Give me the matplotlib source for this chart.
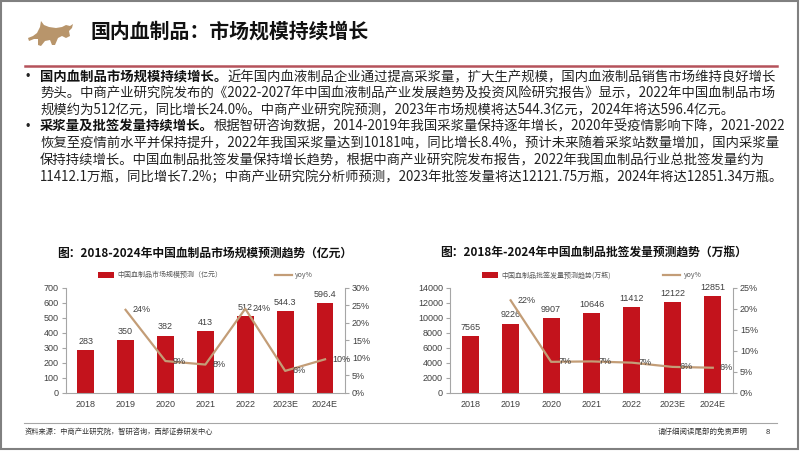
import matplotlib
matplotlib.use("Agg")
import matplotlib.pyplot as plt
from matplotlib.patches import Rectangle, Polygon, Patch
from matplotlib.lines import Line2D
from matplotlib.ticker import FuncFormatter, MultipleLocator

CJK = ['Noto Sans CJK SC', 'DejaVu Sans']
NUM = ['Liberation Sans', 'DejaVu Sans']

# ---- data ----
years = ["2018", "2019", "2020", "2021", "2022", "2023E", "2024E"]
market_size = [283, 350, 382, 413, 512, 544.3, 596.4]
market_labels = ["283", "350", "382", "413", "512", "544.3", "596.4"]
market_yoy = [23.7, 9.1, 8.1, 24.0, 6.3, 9.6]          # % , from 2019
market_yoy_labels = ["24%", "9%", "8%", "24%", "6%", "10%"]

lots = [7565, 9226, 9907, 10646, 11412, 12122, 12851]
lots_labels = ["7565", "9226", "9907", "10646", "11412", "12122", "12851"]
lots_yoy = [22.0, 7.4, 7.5, 7.2, 6.2, 6.0]
lots_yoy_labels = ["22%", "7%", "7%", "7%", "6%", "6%"]

BAR = '#C3131C'
LINE = '#C39D77'
GRAY_T = '#404040'

W, H = 802, 451
fig = plt.figure(figsize=(W / 100, H / 100), dpi=100)

def fx(px):
    return px / W

def fy(py):
    return 1 - py / H

# frame of the slide
fig.add_artist(Rectangle((fx(1), fy(449)), fx(797), 448 / H, transform=fig.transFigure,
                         fill=False, edgecolor='#808080', lw=1.5))

# logo (rough bull silhouette)
bull = [(28, 38), (33, 36), (37, 33), (40, 27), (41, 21), (44, 25), (49, 27), (56, 28),
        (62, 27), (66, 25), (70, 26), (73, 24), (72, 28), (69, 31), (70, 36), (66, 38),
        (62, 36), (58, 38), (55, 45), (52, 45), (50, 40), (45, 41), (41, 46), (38, 45),
        (38, 39), (34, 39), (29, 41)]
fig.add_artist(Polygon([(fx(a), fy(b)) for a, b in bull], closed=True,
                       transform=fig.transFigure, color='#B8956B', lw=0))

fig.text(fx(90), fy(31), "国内血制品：市场规模持续增长", family=CJK, fontsize=14.3,
         fontweight='bold', va='center', ha='left', color='#111111')
fig.add_artist(Line2D([fx(25), fx(777)], [fy(66), fy(66)], transform=fig.transFigure,
                      color='#B5525B', lw=1.8))

# ---- bullet text ----
body = [
    ("国内血制品市场规模持续增长。", "近年国内血液制品企业通过提高采浆量，扩大生产规模，国内血液制品销售市场维持良好增长"),
    ("", "势头。中商产业研究院发布的《2022-2027年中国血液制品产业发展趋势及投资风险研究报告》显示，2022年中国血制品市场"),
    ("", "规模约为512亿元，同比增长24.0%。中商产业研究院预测，2023年市场规模将达544.3亿元，2024年将达596.4亿元。"),
    ("采浆量及批签发量持续增长。", "根据智研咨询数据，2014-2019年我国采浆量保持逐年增长，2020年受疫情影响下降，2021-2022"),
    ("", "恢复至疫情前水平并保持提升，2022年我国采浆量达到10181吨，同比增长8.4%，预计未来随着采浆站数量增加，国内采浆量"),
    ("", "保持持续增长。中国血制品批签发量保持增长趋势，根据中商产业研究院发布报告，2022年我国血制品行业总批签发量约为"),
    ("", "11412.1万瓶，同比增长7.2%；中商产业研究院分析师预测，2023年批签发量将达12121.75万瓶，2024年将达12851.34万瓶。"),
]
line_y = [77, 93.6, 110.2, 126.8, 143.4, 160, 176.6]
renderer = fig.canvas.get_renderer()
for (bold, rest), y in zip(body, line_y):
    x = 40
    if bold:
        fig.text(fx(26), fy(y), "•", family=NUM, fontsize=9, va='center', ha='left', color='#222222')
        t = fig.text(fx(x), fy(y), bold, family=CJK, fontsize=9.6, fontweight='bold',
                     va='center', ha='left', color='#111111')
        x = t.get_window_extent(renderer=renderer).x1
    fig.text(fx(x), fy(y), rest, family=CJK, fontsize=9.6, va='center', ha='left', color='#222222')


def draw_chart(left_px, right_px, title, title_cx, vals, vlabels, yoy, ylabels,
               ymax, ystep, rmax, legend_name, colspace):
    ax = fig.add_axes([fx(left_px), fy(393), fx(right_px - left_px), (393 - 287.7) / H])
    x = list(range(len(years)))
    ax.bar(x, vals, width=0.42, color=BAR, zorder=2)
    for xi, v, lab in zip(x, vals, vlabels):
        ax.annotate(lab, (xi, v), xytext=(0, 3), textcoords='offset points',
                    ha='center', va='bottom', fontsize=6.5, family=NUM, color=GRAY_T)
    ax.set_xlim(-0.5, len(years) - 0.5)
    ax.set_ylim(0, ymax)
    ax.yaxis.set_major_locator(MultipleLocator(ystep))
    ax.set_xticks(x)
    ax.set_xticklabels(years)
    for sp in ['top', 'right']:
        ax.spines[sp].set_visible(False)
    for sp in ['left', 'bottom']:
        ax.spines[sp].set_color('#A6A6A6')
        ax.spines[sp].set_linewidth(0.8)
    ax.tick_params(axis='y', length=3, color='#A6A6A6', labelsize=6.5, labelcolor=GRAY_T, pad=2)
    ax.tick_params(axis='x', length=0, labelsize=6.5, labelcolor=GRAY_T, pad=5)
    for lab in ax.get_xticklabels() + ax.get_yticklabels():
        lab.set_family(NUM)

    ax2 = ax.twinx()
    ax2.plot(x[1:], yoy, color=LINE, lw=1.6, zorder=3)
    for xi, v, lab in zip(x[1:], yoy, ylabels):
        ax2.annotate(lab, (xi, v), xytext=(5, 0), textcoords='offset points',
                     ha='left', va='center', fontsize=6.5, family=NUM, color=GRAY_T)
    ax2.set_ylim(0, rmax)
    ax2.yaxis.set_major_locator(MultipleLocator(5))
    ax2.yaxis.set_major_formatter(FuncFormatter(lambda v, p: "%d%%" % round(v)))
    for sp in ['top', 'left', 'bottom']:
        ax2.spines[sp].set_visible(False)
    ax2.spines['right'].set_color('#A6A6A6')
    ax2.spines['right'].set_linewidth(0.8)
    ax2.tick_params(axis='y', length=3, color='#A6A6A6', labelsize=6.5, labelcolor=GRAY_T, pad=2)
    for lab in ax2.get_yticklabels():
        lab.set_family(NUM)

    handles = [Patch(facecolor=BAR, edgecolor='none'), Line2D([], [], color=LINE, lw=1.6)]
    ax.legend(handles, [legend_name, "yoy%"], ncol=2, loc='lower center',
              bbox_to_anchor=(0.5, 1.02), frameon=False, handlelength=2.4, handleheight=0.9,
              handletextpad=0.5, columnspacing=colspace,
              prop={'family': CJK, 'size': 5}, labelcolor='#595959')

    fig.text(fx(title_cx), fy(253), title, family=CJK, fontsize=8.5, fontweight='bold',
             ha='center', va='center', color='#111111')


draw_chart(65.7, 345, "图：2018-2024年中国血制品市场规模预测趋势（亿元）", 205,
           market_size, market_labels, market_yoy, market_yoy_labels,
           700, 100, 30, "中国血制品市场规模预测（亿元）", 7.5)
draw_chart(450, 733, "图：2018年-2024年中国血制品批签发量预测趋势（万瓶）", 593.5,
           lots, lots_labels, lots_yoy, lots_yoy_labels,
           14000, 2000, 25, "中国血制品批签发量预测趋势(万瓶)", 7.5)

# ---- footer ----
fig.add_artist(Line2D([fx(24), fx(777)], [fy(423), fy(423)], transform=fig.transFigure,
                      color='#A6A6A6', lw=0.8))
fig.text(fx(25), fy(432), "资料来源：中商产业研究院，智研咨询，西部证券研发中心", family=CJK,
         fontsize=5.2, va='center', ha='left', color='#333333')
fig.text(fx(658), fy(432), "请仔细阅读尾部的免责声明", family=CJK,
         fontsize=5.4, va='center', ha='left', color='#333333')
fig.text(fx(768), fy(432), "8", family=NUM, fontsize=5.4, va='center', ha='center', color='#333333')

fig.savefig("out.png", dpi=100)
